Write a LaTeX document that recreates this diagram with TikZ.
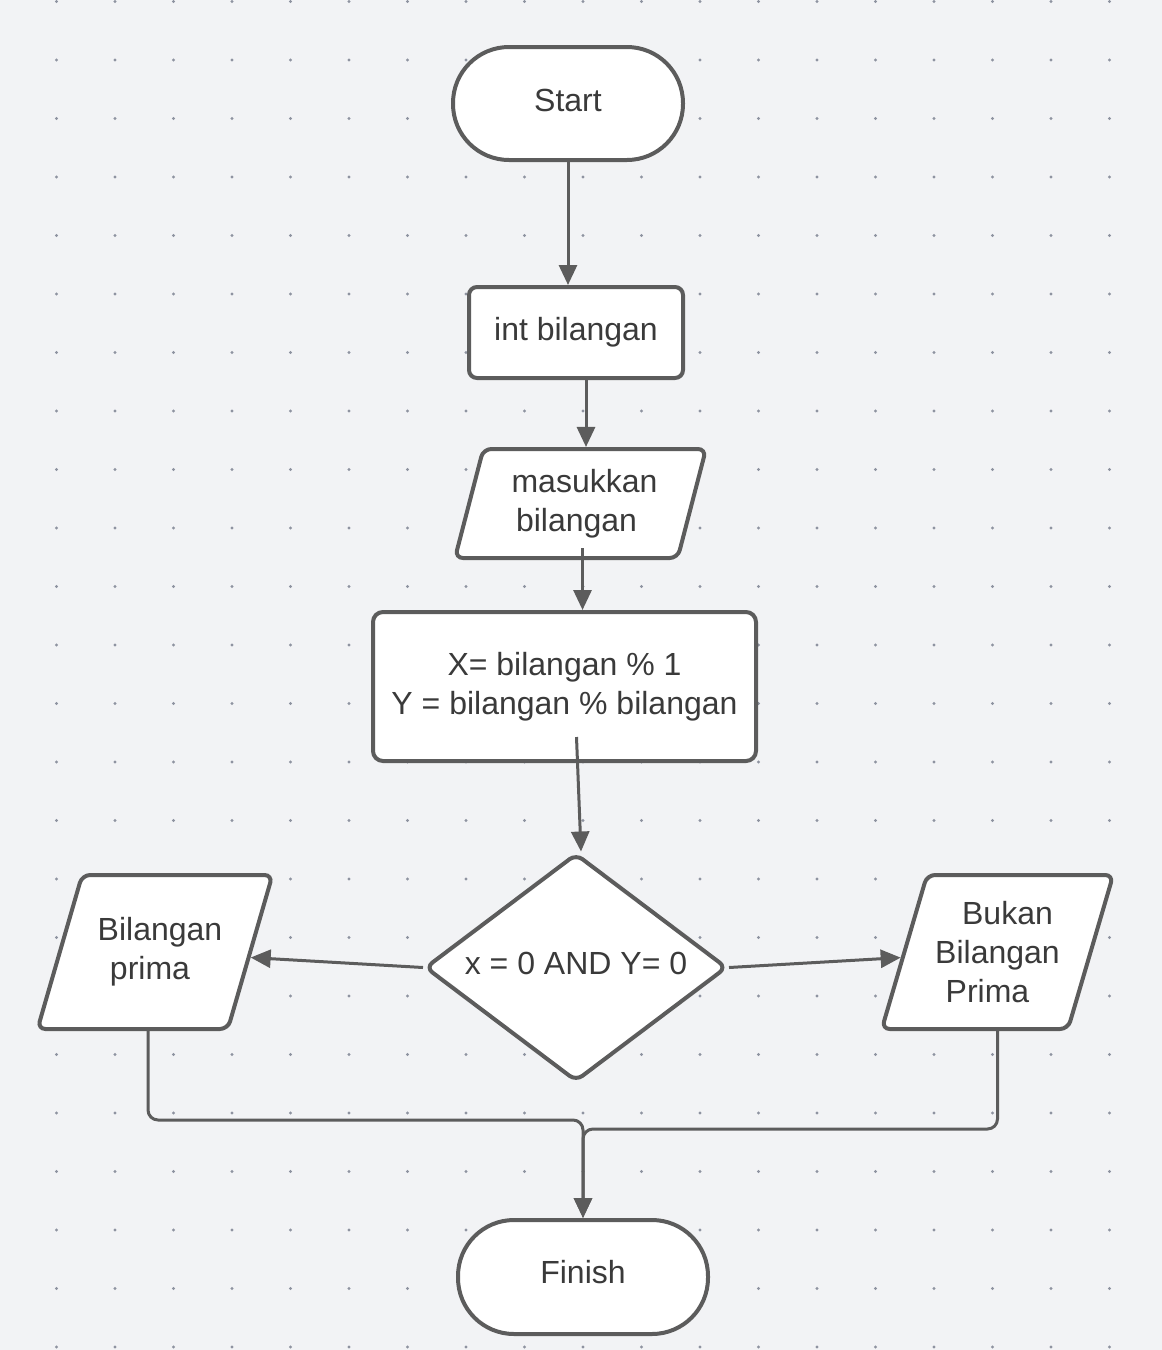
\documentclass[tikz,border=0pt]{standalone}
\usepackage{fontspec}
\setmainfont{Liberation Sans}
\usetikzlibrary{shapes.geometric,arrows.meta}

\definecolor{canvas}{HTML}{F2F3F5}
\definecolor{dotgrey}{HTML}{8E93A0}
\definecolor{edge}{HTML}{5C5C5C}
\definecolor{ink}{HTML}{3A3A3A}

\begin{document}
\begin{tikzpicture}[
  x=0.5pt, y=-0.5pt,
  every node/.style={font=\fontsize{16pt}{19.5pt}\selectfont, text=ink},
  box/.style={
    draw=edge,
    line width=2pt,
    fill=white
  },
  terminal/.style={
    box,
    rectangle,
    rounded corners=28pt,
    minimum width=115pt,
    minimum height=56.5pt
  },
  process/.style={
    box,
    rectangle,
    rounded corners=4pt
  },
  io/.style={
    box,
    trapezium,
    trapezium left angle=61.5,
    trapezium right angle=118.5,
    trapezium stretches body,
    rounded corners=4pt,
    align=center
  },
  decision/.style={
    box,
    diamond,
    aspect=1.32,
    inner sep=2pt,
    rounded corners=4pt
  },
  flow/.style={
    draw=edge,
    line width=1.5pt,
    -{Triangle[length=10pt,width=9pt]}
  }
]
% canvas with dotted grid
\fill[canvas] (0,0) rectangle (1162,1350);
\useasboundingbox (0,0) rectangle (1162,1350);
\foreach \i in {0,...,18} {\foreach \j in {0,...,23}
  {\fill[dotgrey] (56.5+58.5*\i,1.5+58.5*\j) circle (0.8pt);}}

\node[terminal, text depth=3pt] (start) at (568,103.5) {Start};
\node[process, minimum width=107pt, minimum height=45.5pt] (decl) at (576,332.5) {int bilangan};
\node[io, minimum width=125.5pt, minimum height=54.5pt,
  trapezium left angle=71, trapezium right angle=109] (input) at (580.5,503.5)
  {\kern4pt masukkan\\bilangan\kern4pt};
\node[process, rounded corners=5pt, minimum width=191.5pt, minimum height=74.5pt,
  align=center] (calc) at (564.5,686.5) {X= bilangan \% 1\\Y = bilangan \% bilangan};
\node[decision, text depth=4pt, minimum width=151pt, minimum height=114pt] (check) at (576,967.5) {x = 0 AND Y= 0};
\node[io, inner xsep=2.8pt, minimum width=105pt, minimum height=77pt] (prime) at (155,952)
  {\kern5pt Bilangan\\prima\kern5pt};
\node[io, inner xsep=4.1pt, minimum width=106pt, minimum height=77pt,
  trapezium left angle=68.5, trapezium right angle=111.5] (notprime) at (997.5,952)
  {\kern10pt Bukan\\Bilangan\\Prima\kern10pt};
\node[terminal, text depth=5pt, minimum width=125pt, minimum height=57pt] (finish) at (583,1277) {Finish};

\draw[flow] (start.south) -- (start.south |- decl.north);
\draw[flow] ([xshift=5pt]decl.south) -- ([xshift=5pt]decl.south |- input.north);
\draw[flow] ([xshift=1pt,yshift=6pt]input.south) -- ([xshift=1pt]input.south |- calc.north);
\draw[flow] ([xshift=6pt,yshift=13pt]calc.south) -- ([xshift=2.5pt]check.north);
\draw[flow] (check.west) -- (prime);
\draw[flow] (check.east) -- (notprime);
\draw[flow, rounded corners=5pt] ([xshift=-3.5pt]prime.south) |- ([yshift=49pt]finish.north) -- (finish.north);
\draw[flow, rounded corners=5pt] (notprime.south) |- ([yshift=44.5pt]finish.north) -- (finish.north);
\end{tikzpicture}
\end{document}
